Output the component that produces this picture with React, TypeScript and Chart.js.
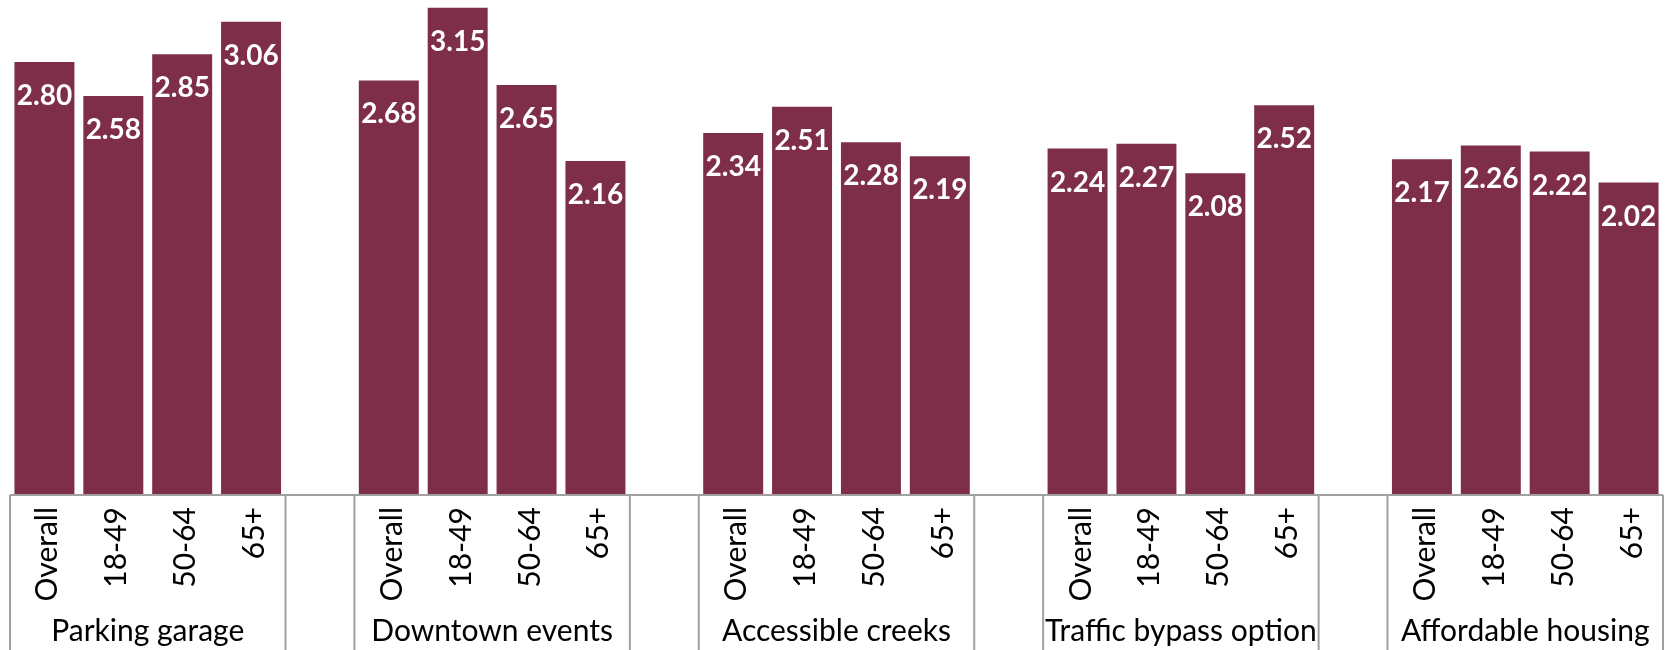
import React, { useEffect, useRef } from "react";
import { Chart, registerables } from "chart.js";

Chart.register(...registerables);

const groups = [
  "Parking garage",
  "Downtown events",
  "Accessible creeks",
  "Traffic bypass option",
  "Affordable housing",
];
const segments = ["Overall", "18-49", "50-64", "65+"];

const parkingGarage = [2.8, 2.58, 2.85, 3.06];
const downtownEvents = [2.68, 3.15, 2.65, 2.16];
const accessibleCreeks = [2.34, 2.51, 2.28, 2.19];
const trafficBypass = [2.24, 2.27, 2.08, 2.52];
const affordableHousing = [2.17, 2.26, 2.22, 2.02];

const groupValues = [
  parkingGarage,
  downtownEvents,
  accessibleCreeks,
  trafficBypass,
  affordableHousing,
];

const yMin = 0;
const yMax = 3.2;

// Build flat category list with blank spacer slots between groups
const labels: string[] = [];
const values: (number | null)[] = [];
const groupOf: number[] = [];
groups.forEach((g, gi) => {
  segments.forEach((s, si) => {
    labels.push(s);
    values.push(groupValues[gi][si]);
    groupOf.push(gi);
  });
  if (gi < groups.length - 1) {
    labels.push("");
    values.push(null);
    groupOf.push(-1);
  }
});

const BAR_COLOR = "rgb(127,46,74)";
const LINE_COLOR = "#a0a0a0";
const FONT = "Lato, 'Open Sans', sans-serif";

const axisPlugin = {
  id: "multiLevelAxis",
  afterDatasetsDraw(chart: any) {
    const ctx = chart.ctx;
    const meta = chart.getDatasetMeta(0);
    ctx.save();
    ctx.fillStyle = "#ffffff";
    ctx.font = `bold 28px ${FONT}`;
    ctx.textAlign = "center";
    ctx.textBaseline = "alphabetic";
    meta.data.forEach((el: any, i: number) => {
      const v = values[i];
      if (v === null || v === undefined) return;
      ctx.fillText(v.toFixed(2), el.x, el.y + 43);
    });
    ctx.restore();
  },
  afterDraw(chart: any) {
    const ctx = chart.ctx;
    const x = chart.scales.x;
    const area = chart.chartArea;
    const n = labels.length;
    const slot = (area.right - area.left) / n;
    const H = chart.height;
    ctx.save();
    ctx.strokeStyle = LINE_COLOR;
    ctx.lineWidth = 2;
    // axis line
    ctx.beginPath();
    ctx.moveTo(area.left, area.bottom);
    ctx.lineTo(area.right, area.bottom);
    ctx.stroke();
    // boundary lines where group membership changes
    for (let k = 0; k <= n; k++) {
      const prev = k > 0 ? groupOf[k - 1] : -2;
      const next = k < n ? groupOf[k] : -2;
      if (k === 0 || k === n || prev !== next) {
        const px = x.getPixelForValue(Math.min(k, n - 1)) + (k === n ? slot / 2 : -slot / 2);
        ctx.beginPath();
        ctx.moveTo(px, area.bottom);
        ctx.lineTo(px, H);
        ctx.stroke();
      }
    }
    // rotated category labels
    ctx.fillStyle = "#000000";
    ctx.font = `30px ${FONT}`;
    ctx.textAlign = "right";
    ctx.textBaseline = "alphabetic";
    labels.forEach((lab, i) => {
      if (!lab) return;
      const cx = x.getPixelForValue(i);
      ctx.save();
      ctx.translate(cx + 13, area.bottom + 12);
      ctx.rotate(-Math.PI / 2);
      ctx.fillText(lab, 0, 0);
      ctx.restore();
    });
    // group labels
    ctx.font = `30px ${FONT}`;
    ctx.textAlign = "center";
    groups.forEach((g, gi) => {
      const idx = groupOf.map((v, i) => (v === gi ? i : -1)).filter((i) => i >= 0);
      const a = x.getPixelForValue(idx[0]);
      const b = x.getPixelForValue(idx[idx.length - 1]);
      ctx.fillText(g, (a + b) / 2, 641);
    });
    ctx.restore();
  },
};

export default function App() {
  const ref = useRef<HTMLCanvasElement | null>(null);
  useEffect(() => {
    if (!ref.current) return;
    const chart = new Chart(ref.current, {
      type: "bar",
      data: {
        labels,
        datasets: [
          {
            data: values,
            backgroundColor: BAR_COLOR,
            borderWidth: 0,
            categoryPercentage: 1,
            barPercentage: 0.871,
          },
        ],
      },
      options: {
        responsive: false,
        animation: false,
        devicePixelRatio: 1,
        layout: { padding: { left: 10, right: 6, top: 0, bottom: 155 } },
        plugins: { legend: { display: false }, tooltip: { enabled: false } },
        scales: {
          x: { display: false },
          y: { display: false, min: yMin, max: yMax },
        },
      },
      plugins: [axisPlugin],
    });
    return () => chart.destroy();
  }, []);
  return (
    <div style={{ position: "fixed", left: 0, top: 0, width: 1669, height: 650, background: "#fff" }}>
      <canvas ref={ref} width={1669} height={650} />
    </div>
  );
}
